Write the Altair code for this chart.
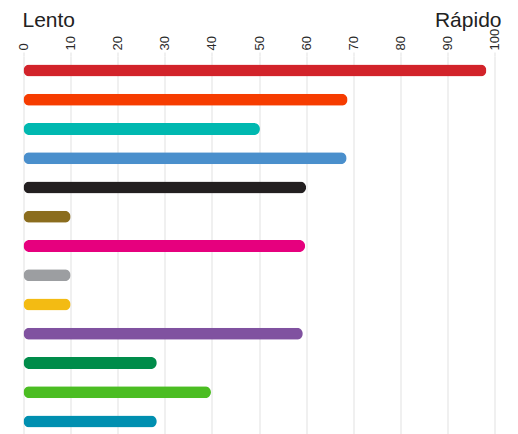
import altair as alt
import pandas as pd

categories = ["S01", "S02", "S03", "S04", "S05", "S06", "S07",
              "S08", "S09", "S10", "S11", "S12", "S13"]
values = [98.3, 68.8, 50.2, 68.6, 60, 10, 59.8, 10, 10, 59.3, 28.3, 39.8, 28.3]
colors = ["#D2232A", "#F63C00", "#00B8B0", "#4A8FCC", "#231F20", "#8B6D1E",
          "#E6007E", "#9C9EA1", "#F3BB13", "#8052A0", "#008C4A", "#4BBD22", "#008FB0"]
tick_values = [0, 10, 20, 30, 40, 50, 60, 70, 80, 90, 100]
end_labels = ["Lento", "Rápido"]

df = pd.DataFrame({"cat": categories, "value": values, "color": colors})

W, H = 471, 380

bars = alt.Chart(df).mark_bar(size=12, cornerRadius=6).encode(
    x=alt.X("value:Q",
            scale=alt.Scale(domain=[0, 100], nice=False, zero=True),
            axis=alt.Axis(orient="top", values=tick_values, title=None,
                          labelAngle=270, domain=False, tickSize=4,
                          tickColor="#EBEBEB", tickWidth=1.5,
                          gridColor="#EBEBEB", gridWidth=1.5,
                          labelFont="Liberation Sans", labelFontSize=13,
                          labelColor="#2a2a2a", labelPadding=2)),
    y=alt.Y("cat:N", sort=categories,
            scale=alt.Scale(paddingInner=0, paddingOuter=0),
            axis=None),
    color=alt.Color("color:N", scale=None),
)

lento = alt.Chart(pd.DataFrame({"t": [end_labels[0]]})).mark_text(
    align="left", baseline="alphabetic", font="Liberation Sans", fontSize=21,
    color="#222222").encode(text="t:N", x=alt.value(-1), y=alt.value(-29))

rapido = alt.Chart(pd.DataFrame({"t": [end_labels[1]]})).mark_text(
    align="right", baseline="alphabetic", font="Liberation Sans", fontSize=21,
    color="#222222").encode(text="t:N", x=alt.value(478), y=alt.value(-29))

chart = alt.layer(bars, lento, rapido).properties(
    width=W, height=H,
    autosize=alt.AutoSizeParams(type="none"),
    padding={"left": 15.5, "top": 48, "right": 15.5, "bottom": 0},
).configure_view(stroke=None).configure_axis(grid=True)

chart.save("out.html", embed_options={"renderer": "svg", "actions": False})
